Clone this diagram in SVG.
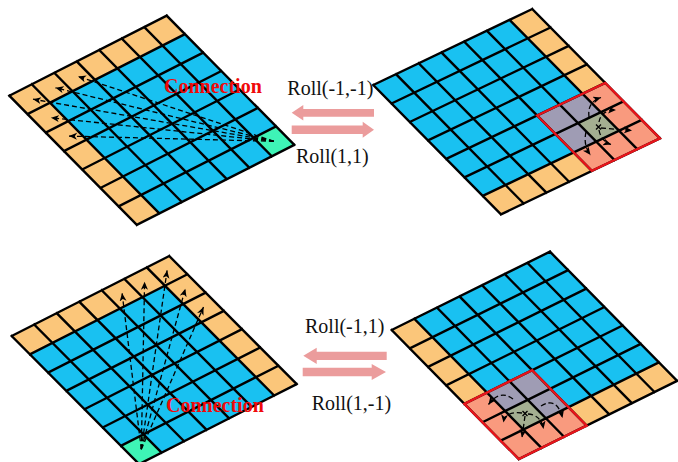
<svg xmlns="http://www.w3.org/2000/svg" width="678" height="462" viewBox="0 0 678 462">
  <style>
    .bl { fill: #19c1f1; }
    .or { fill: #fbc67a; }
    .gr { fill: #3ef4b6; }
    .sa { fill: #f99a7e; }
    .pu { fill: #9f9cb4; }
    .ce { fill: #a4af91; }
    .grid { fill: none; stroke: #000; stroke-width: 2.4; vector-effect: non-scaling-stroke; stroke-linecap: square; }
    .frame { fill: none; stroke: #e8141a; stroke-width: 2.4; vector-effect: non-scaling-stroke; }
    .dash { fill: none; stroke: #000; stroke-width: 1.3; stroke-dasharray: 5 3; marker-end: url(#head); }
    .xm { fill: none; stroke: #000; stroke-width: 1.3; }
    .roll { fill: #eb9c9c; }
    .lab { font-family: "Liberation Serif", "Times New Roman", serif; font-size: 20px; fill: #111; }
    .con { font-family: "Liberation Serif", "Times New Roman", serif; font-size: 20px; font-weight: bold; fill: #f00a0a; }
  </style>
  <defs>
    <marker id="head" markerUnits="userSpaceOnUse" markerWidth="9" markerHeight="8" refX="8" refY="3.5" orient="auto">
      <path d="M0,0 L8,3.5 L0,7 L2.2,3.5 z" fill="#000"/>
    </marker>
  </defs>

  <!-- upper left board: corner cell linked to the far border cells -->
  <g id="board-top-left" transform="matrix(22.49,-11.43,18.22,18.45,9.3,95.7)">
    <rect class="bl" x="0" y="0" width="7" height="7"/>
    <rect class="or" x="0" y="0" width="7" height="1"/>
    <rect class="or" x="0" y="0" width="1" height="7"/>
    <rect class="gr" x="6" y="6" width="1" height="1"/>
    <path class="grid" d="M0 0H7M0 1H7M0 2H7M0 3H7M0 4H7M0 5H7M0 6H7M0 7H7M0 0V7M1 0V7M2 0V7M3 0V7M4 0V7M5 0V7M6 0V7M7 0V7"/>
  </g>

  <!-- upper right board: rolled by (-1,-1), 3x3 window -->
  <g id="board-top-right" transform="matrix(22.71,-10.86,18.24,18.48,373.3,85)">
    <rect class="bl" x="0" y="0" width="7" height="7"/>
    <rect class="or" x="6" y="0" width="1" height="4"/>
    <rect class="or" x="0" y="6" width="4" height="1"/>
    <rect class="sa" x="4" y="4" width="3" height="3"/>
    <rect class="pu" x="4" y="4" width="2" height="1"/>
    <rect class="pu" x="4" y="5" width="1" height="1"/>
    <rect class="ce" x="5" y="5" width="1" height="1"/>
    <path class="grid" d="M0 0H7M0 1H7M0 2H7M0 3H7M0 4H7M0 5H7M0 6H7M0 7H7M0 0V7M1 0V7M2 0V7M3 0V7M4 0V7M5 0V7M6 0V7M7 0V7"/>
    <rect class="frame" x="4" y="4" width="3" height="3"/>
  </g>

  <!-- lower left board: corner cell linked to the far border cells -->
  <g id="board-bottom-left" transform="matrix(22.51,-11.43,18.2,18.3,11.7,336)">
    <rect class="bl" x="0" y="0" width="7" height="7"/>
    <rect class="or" x="0" y="0" width="7" height="1"/>
    <rect class="or" x="6" y="0" width="1" height="7"/>
    <rect class="gr" x="0" y="6" width="1" height="1"/>
    <path class="grid" d="M0 0H7M0 1H7M0 2H7M0 3H7M0 4H7M0 5H7M0 6H7M0 7H7M0 0V7M1 0V7M2 0V7M3 0V7M4 0V7M5 0V7M6 0V7M7 0V7"/>
  </g>

  <!-- lower right board: rolled by (-1,1), 3x3 window -->
  <g id="board-bottom-right" transform="matrix(22.61,-11.19,18.16,18.45,391.7,330)">
    <rect class="bl" x="0" y="0" width="7" height="7"/>
    <rect class="or" x="0" y="0" width="1" height="4"/>
    <rect class="or" x="3" y="6" width="4" height="1"/>
    <rect class="sa" x="0" y="4" width="3" height="3"/>
    <rect class="pu" x="1" y="4" width="2" height="1"/>
    <rect class="pu" x="2" y="5" width="1" height="1"/>
    <rect class="ce" x="1" y="5" width="1" height="1"/>
    <path class="grid" d="M0 0H7M0 1H7M0 2H7M0 3H7M0 4H7M0 5H7M0 6H7M0 7H7M0 0V7M1 0V7M2 0V7M3 0V7M4 0V7M5 0V7M6 0V7M7 0V7"/>
    <rect class="frame" x="0" y="4" width="3" height="3"/>
  </g>

  <g id="connectors">
    <!-- long-range links, upper left board -->
    <path class="dash" d="M273.9 141.3 L33 99.2"/>
    <path class="dash" d="M273.9 141.3 L55.5 87.8"/>
    <path class="dash" d="M273.9 141.3 L78 76.4"/>
    <path class="dash" d="M273.9 141.3 L51 117.7"/>
    <path class="dash" d="M273.9 141.3 L69 136.1"/>

    <!-- long-range links, lower left board -->
    <path class="dash" d="M141.3 449.2 L122.1 293.2"/>
    <path class="dash" d="M141.3 449.2 L144.6 281.8"/>
    <path class="dash" d="M141.3 449.2 L167.1 270.4"/>
    <path class="dash" d="M141.3 449.2 L185.3 288.7"/>
    <path class="dash" d="M141.3 449.2 L203.5 307"/>

    <!-- local moves, upper right window -->
    <path class="xm" d="M596 124.5 L601 129.5 M596 129.5 L601 124.5"/>
    <path class="dash" d="M589 117 Q587 102 601 97.5"/>
    <path class="dash" d="M599 122 Q601 110 616 110"/>
    <path class="dash" d="M601 128 L632 130.5"/>
    <path class="dash" d="M599 130 Q601 141 611 144.5"/>
    <path class="dash" d="M586 132 Q583 145 590.5 155"/>

    <!-- local moves, lower right window -->
    <path class="xm" d="M522.5 411 L527.5 416 M522.5 416 L527.5 411"/>
    <path class="dash" d="M513 399 Q500 389 488.5 404.5"/>
    <path class="dash" d="M541 406 Q557 396 562.5 418"/>
    <path class="dash" d="M522 413 Q505 411 503.5 422.5"/>
    <path class="dash" d="M525 416 L522 437.5"/>
    <path class="dash" d="M528 414 Q541 415 543.5 429"/>

    <!-- roll operators between boards -->
    <path class="roll" d="M291.7 112.8 L303.3 105 L303.3 109 L374 109 L374 116.7 L303.3 116.7 L303.3 120.6 Z"/>
    <path class="roll" d="M374 129.7 L362.7 121.7 L362.7 125.5 L291.7 125.5 L291.7 134 L362.7 134 L362.7 137.7 Z"/>
    <path class="roll" d="M303.3 355.8 L316.7 347.7 L316.7 351.7 L386.7 351.7 L386.7 360 L316.7 360 L316.7 364 Z"/>
    <path class="roll" d="M386 372 L371.7 364 L371.7 367.8 L302.7 367.8 L302.7 376.2 L371.7 376.2 L371.7 380 Z"/>
  </g>

  <g id="labels">
    <text class="con" x="164" y="93">Connection</text>
    <text class="con" x="166" y="411.7">Connection</text>
    <text class="lab" x="287.3" y="95">Roll(-1,-1)</text>
    <text class="lab" x="296" y="162.5">Roll(1,1)</text>
    <text class="lab" x="305" y="332.7">Roll(-1,1)</text>
    <text class="lab" x="311.7" y="410">Roll(1,-1)</text>
  </g>
</svg>
